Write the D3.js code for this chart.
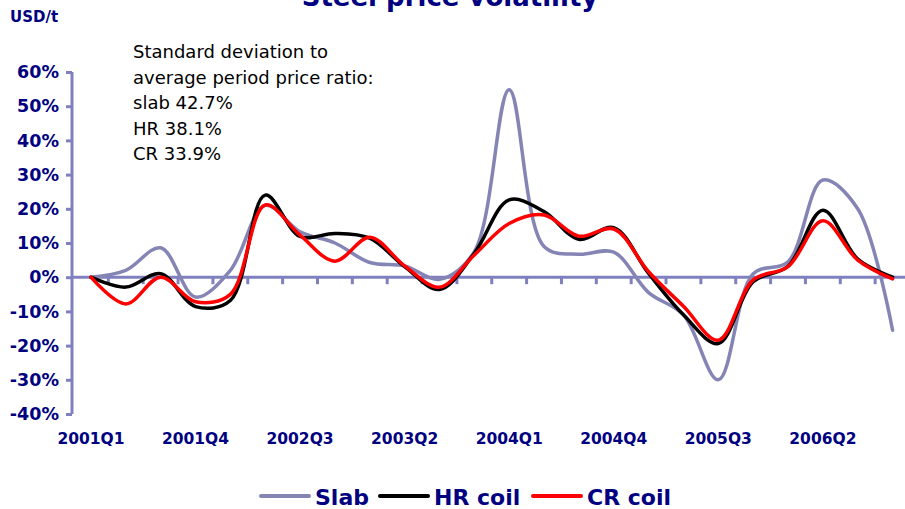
<!DOCTYPE html>
<html>
<head>
<meta charset="utf-8">
<script src="https://cdn.jsdelivr.net/npm/d3@7/dist/d3.min.js"></script>
<style>
  html, body { margin: 0; padding: 0; background: #ffffff; }
  svg { display: block; }
  text { font-family: "DejaVu Sans", Verdana, sans-serif; }
</style>
</head>
<body>
<svg id="chart" width="905" height="509"></svg>
<script>
// ---- data ----
const quarters = ["2001Q1","2001Q2","2001Q3","2001Q4","2002Q1","2002Q2","2002Q3","2002Q4",
                  "2003Q1","2003Q2","2003Q3","2003Q4","2004Q1","2004Q2","2004Q3","2004Q4",
                  "2005Q1","2005Q2","2005Q3","2005Q4","2006Q1","2006Q2","2006Q3","2006Q4"];
const slab   = [0, 2, 8.6, -5.8, 2, 21, 13.3, 10, 4.3, 3.3, -0.6, 7.5, 54.8, 9, 6.7, 7.3, -4.5, -11, -30, 1, 4.5, 28.4, 20, -15.5];
const hrCoil = [0, -2.9, 1, -8.6, -6.8, 24, 11.9, 12.8, 11.4, 3.1, -3.6, 7, 22.6, 19.2, 11.1, 14.5, 1.1, -11, -19.4, -1.3, 3.2, 19.6, 5.3, 0];
const crCoil = [0, -7.8, 0, -7.2, -5, 21.1, 12.3, 4.7, 11.7, 3.3, -2.9, 6.5, 15.7, 18.2, 12, 14.1, 1.6, -8.5, -18.4, -0.8, 3.1, 16.5, 5, -0.5];
const xTickLabels = ["2001Q1","2001Q4","2002Q3","2003Q2","2004Q1","2004Q4","2005Q3","2006Q2"];
const yTicks = [-40, -30, -20, -10, 0, 10, 20, 30, 40, 50, 60];
const seriesNames = ["Slab", "HR coil", "CR coil"];
const seriesColors = ["#8585b5", "#000000", "#ff0000"];
const noteLines = ["Standard deviation to", "average period price ratio:", "slab 42.7%", "HR 38.1%", "CR 33.9%"];
const titleText = "Steel price volatility";
const unitText = "USD/t";

// ---- layout ----
const svg = d3.select("#chart");
const navy = "#000080";
const axisColor = "#8080c0";

const x = d3.scaleBand().domain(quarters).range([73.5, 910]).padding(0);
const y = d3.scaleLinear().domain([-40, 60]).range([414, 72]);
const cx = q => x(q) + x.bandwidth() / 2;

// title (cut off at top, as in the reference)
svg.append("text").attr("x", 450).attr("y", 6).attr("text-anchor", "middle")
  .attr("font-size", 26).attr("font-weight", "bold").attr("fill", navy).text(titleText);
svg.append("text").attr("x", 10).attr("y", 22)
  .attr("font-size", 15).attr("font-weight", "bold").attr("fill", navy).text(unitText);

// y axis
const yAxis = d3.axisLeft(y).tickValues(yTicks).tickFormat(d => d + "%").tickSize(6).tickPadding(7);
const gy = svg.append("g").attr("transform", "translate(72,0)").call(yAxis);
gy.select(".domain").attr("stroke", axisColor).attr("stroke-width", 3).attr("d", `M0,${y(60)}V${y(-40)}`);
gy.selectAll(".tick line").attr("stroke", axisColor).attr("stroke-width", 3);
gy.selectAll(".tick text").attr("fill", navy).attr("font-size", 17.5).attr("font-weight", "bold")
  .attr("font-family", "DejaVu Sans");

// x axis: zero line with ticks at category boundaries
const gx = svg.append("g");
gx.append("line").attr("x1", 72).attr("x2", 905).attr("y1", y(0)).attr("y2", y(0))
  .attr("stroke", axisColor).attr("stroke-width", 3);
gx.selectAll("line.tk").data(quarters.slice(1)).join("line").attr("class", "tk")
  .attr("x1", d => x(d)).attr("x2", d => x(d)).attr("y1", y(0)).attr("y2", y(0) + 7)
  .attr("stroke", axisColor).attr("stroke-width", 3);

// x labels
const xLab = d3.axisBottom(x).tickValues(xTickLabels).tickSize(0).tickPadding(0);
const gxl = svg.append("g").attr("transform", "translate(0,433)").call(xLab);
gxl.select(".domain").remove();
gxl.selectAll(".tick text").attr("fill", navy).attr("font-size", 15.5).attr("font-weight", "bold")
  .attr("font-family", "DejaVu Sans");

// note
const note = svg.append("text").attr("x", 133).attr("y", 58).attr("font-size", 18).attr("fill", "#000");
noteLines.forEach((t, i) => note.append("tspan").attr("x", 133).attr("dy", i === 0 ? 0 : 25.5).text(t));

// lines
const line = d3.line().x((d, i) => cx(quarters[i])).y(d => y(d)).curve(d3.curveCatmullRom.alpha(0.5));
[slab, hrCoil, crCoil].forEach((s, k) => {
  svg.append("path").datum(s).attr("d", line).attr("fill", "none")
    .attr("stroke", seriesColors[k]).attr("stroke-width", 3.5)
    .attr("stroke-linejoin", "round").attr("stroke-linecap", "round");
});

// legend
const legX = [261, 380, 533];
seriesNames.forEach((n, k) => {
  svg.append("line").attr("x1", legX[k]).attr("x2", legX[k] + 48).attr("y1", 496).attr("y2", 496)
    .attr("stroke", seriesColors[k]).attr("stroke-width", 4).attr("stroke-linecap", "round");
  svg.append("text").attr("x", legX[k] + 54).attr("y", 505).attr("font-size", 22)
    .attr("font-weight", "bold").attr("fill", navy).text(n);
});
</script>
</body>
</html>
